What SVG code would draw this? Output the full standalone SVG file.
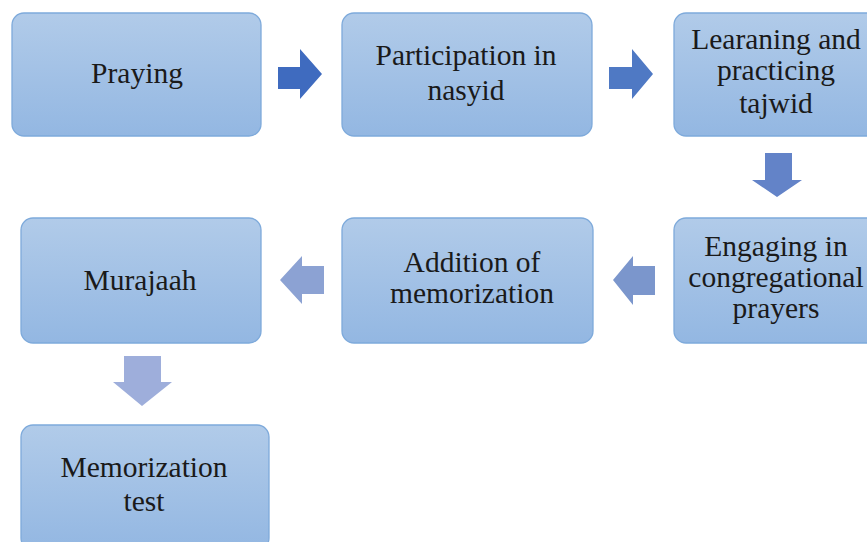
<svg xmlns="http://www.w3.org/2000/svg" width="867" height="542" viewBox="0 0 867 542">
<defs>
<linearGradient id="g" x1="0" y1="0" x2="0" y2="1">
<stop offset="0" stop-color="#b1cbe9"/>
<stop offset="1" stop-color="#93b7e2"/>
</linearGradient>
<style>
.box{fill:url(#g);stroke:#7eaadb;stroke-width:1.3}
.t{font-family:"Liberation Serif",serif;font-size:29.5px;fill:#1a1a1a;text-anchor:middle}
</style>
</defs>
<rect width="867" height="542" fill="#fff"/>
<g id="connectors">
<polygon points="278,67 300,67 300,49 322,74 300,99 300,89 278,89" fill="#3f6bbf"/>
<polygon points="609,67 632,67 632,49 653,74 632,99 632,89 609,89" fill="#4f79c4"/>
<polygon points="765,153 792,153 792,180 802,180 777,197 752,180 765,180" fill="#6383c8"/>
<polygon points="655,266 633,266 633,256 613,280 633,305 633,295 655,295" fill="#7b96cc"/>
<polygon points="324,266 302,266 302,256 280,280 302,304 302,294 324,294" fill="#8ca2d3"/>
<polygon points="124,356 161,356 161,382 172,382 142,406 113,382 124,382" fill="#9eaedb"/>
</g>
<g id="n1"><rect class="box" x="12" y="13" width="249" height="123" rx="12"/><text class="t" x="137" y="83">Praying</text></g>
<g id="n2"><rect class="box" x="342" y="13" width="250" height="123" rx="12"/><text class="t" x="466" y="65">Participation in</text><text class="t" x="466" y="100">nasyid</text></g>
<g id="n3"><rect class="box" x="674" y="13" width="250" height="123" rx="12"/><text class="t" x="776" y="49">Learaning and</text><text class="t" x="776" y="80">practicing</text><text class="t" x="776" y="113">tajwid</text></g>
<g id="n4"><rect class="box" x="674" y="218" width="250" height="125" rx="12"/><text class="t" x="776" y="256">Engaging in</text><text class="t" x="776" y="287">congregational</text><text class="t" x="776" y="318">prayers</text></g>
<g id="n5"><rect class="box" x="342" y="218" width="251" height="125" rx="12"/><text class="t" x="472" y="272">Addition of</text><text class="t" x="472" y="303">memorization</text></g>
<g id="n6"><rect class="box" x="21" y="218" width="240" height="125" rx="12"/><text class="t" x="140" y="290">Murajaah</text></g>
<g id="n7"><rect class="box" x="21" y="425" width="248" height="125" rx="12"/><text class="t" x="144" y="477">Memorization</text><text class="t" x="144" y="511">test</text></g>
</svg>
